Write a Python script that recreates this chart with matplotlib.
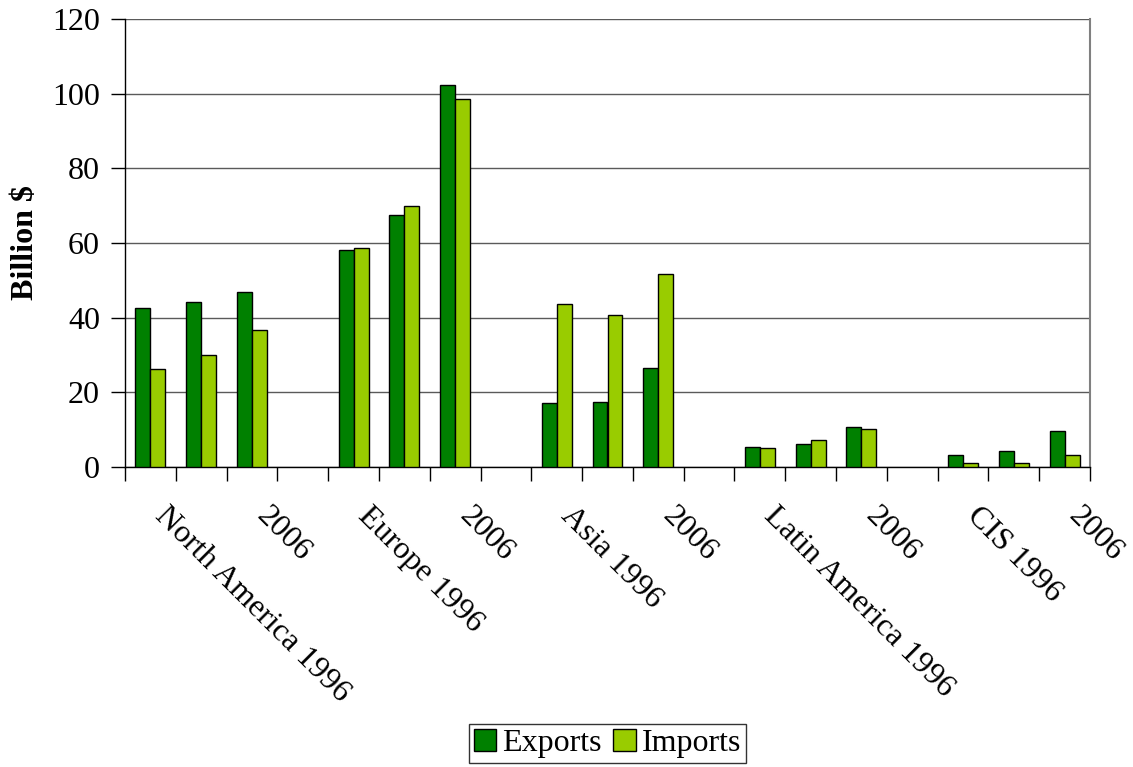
import matplotlib
matplotlib.use("Agg")
import matplotlib.pyplot as plt
import matplotlib.transforms as mtransforms
import numpy as np

categories = ["North America 1996", "2001", "2006", "",
              "Europe 1996", "2001", "2006", "",
              "Asia 1996", "2001", "2006", "",
              "Latin America 1996", "2001", "2006", "",
              "CIS 1996", "2001", "2006"]
exports = [42.6, 44.2, 46.9, np.nan,
           58.1, 67.4, 102.2, np.nan,
           17.1, 17.4, 26.5, np.nan,
           5.3, 6.1, 10.7, np.nan,
           3.1, 4.2, 9.7]
imports = [26.3, 30.0, 36.7, np.nan,
           58.6, 69.9, 98.6, np.nan,
           43.6, 40.8, 51.6, np.nan,
           5.2, 7.1, 10.2, np.nan,
           1.1, 1.1, 3.3]
series_names = ["Exports", "Imports"]
colors = ["#008000", "#99CC00"]
y_ticks = [0, 20, 40, 60, 80, 100, 120]
label_every = 2

plt.rcParams['font.family'] = ['Liberation Serif', 'DejaVu Serif']
FS = 23

fig = plt.figure(figsize=(11.33, 7.67), dpi=100)
ax = fig.add_axes([125/1133, 1-467/767, (1090-125)/1133, (467-19)/767])

x = np.arange(len(categories))
w = 0.295
ax.bar(x - w/2, exports, width=w, color=colors[0], edgecolor='black', linewidth=1.0,
       label=series_names[0], zorder=3)
ax.bar(x + w/2, imports, width=w, color=colors[1], edgecolor='black', linewidth=1.0,
       label=series_names[1], zorder=3)

ax.set_xlim(-0.5, len(categories) - 0.5)
ax.set_ylim(y_ticks[0], y_ticks[-1])
ax.set_yticks(y_ticks)
ax.set_yticklabels([str(v) for v in y_ticks], fontsize=FS)
ax.yaxis.grid(True, color='#5a5a5a', linewidth=1.0, zorder=0)
ax.set_axisbelow(True)

# category boundary ticks
ax.set_xticks(np.arange(len(categories) + 1) - 0.5)
ax.set_xticklabels([])
ax.tick_params(axis='x', which='major', direction='out', length=10, width=1, color='black')
ax.tick_params(axis='y', which='major', direction='out', length=10, width=1, color='black', pad=8)

# labels at category centres
lab_idx = x[::label_every]
ax.set_xticks(lab_idx, minor=True)
ax.set_xticklabels([categories[i] for i in lab_idx], minor=True, fontsize=FS)
ax.tick_params(axis='x', which='minor', length=0, pad=25)
offset = mtransforms.ScaledTranslation(19/100, 0, fig.dpi_scale_trans)
for lbl in ax.get_xticklabels(minor=True):
    lbl.set_rotation(-45)
    lbl.set_ha('left')
    lbl.set_va('top')
    lbl.set_rotation_mode('anchor')
    lbl.set_transform(lbl.get_transform() + offset)

for s in ['left', 'bottom']:
    ax.spines[s].set_color('black')
    ax.spines[s].set_linewidth(1.0)
ax.spines['right'].set_color('#808080')
ax.spines['right'].set_linewidth(1.5)
ax.spines['top'].set_visible(False)

ax.set_ylabel("Billion $", fontsize=FS, fontweight='bold')
ax.yaxis.set_label_coords(-(125-40)/965, 0.5)

leg = ax.legend(loc='upper center', bbox_to_anchor=(0.5, (467-724)/448), ncol=2,
                fontsize=FS, frameon=True, fancybox=False, shadow=False,
                handlelength=0.7, handleheight=0.7, handletextpad=0.2,
                columnspacing=0.35, borderpad=0.15, borderaxespad=0)
leg.get_frame().set_edgecolor('black')
leg.get_frame().set_linewidth(1.0)

fig.savefig("out.png", dpi=100)
